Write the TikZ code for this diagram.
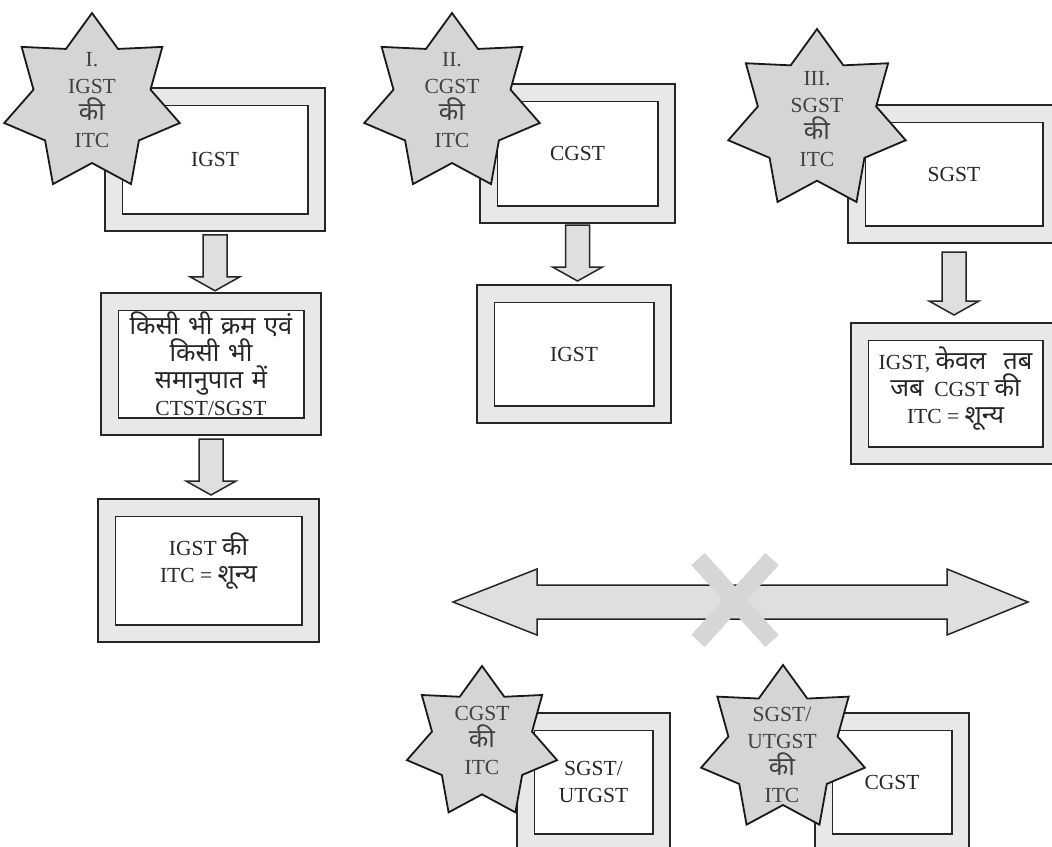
\documentclass[tikz,border=0pt]{standalone}
\usepackage{fontspec}
\setmainfont{Liberation Serif}
\newfontfamily\devfont[Script=Devanagari,Scale=1.18,WordSpace=1.3]{Noto Sans}
\newcommand\hi[1]{{\devfont #1}}
\usetikzlibrary{shapes.geometric,calc}
\tikzset{
  frame/.style={draw=black!85, line width=1.8pt, double=gray!18, double distance=15.5pt,
    fill=white, inner sep=0pt, outer sep=0pt, align=center, text=black!85,
    font=\fontsize{21.5}{27}\selectfont},
  starbadge/.style={star, star points=7, star point ratio=1.5, draw=black!90,
    line width=1.8pt, fill=gray!33, inner sep=0pt, outer sep=0pt},
  startext/.style={align=center, text=black!75, inner sep=0pt,
    font=\fontsize{21.5}{27}\selectfont},
  blockarrowstyle/.style={draw=black!85, line width=1.5pt, fill=gray!25, line join=miter},
  crossline/.style={draw=gray!32, line width=18pt}
}
\newcommand\blockarrow[2]{%
  \path #1 coordinate (ba-s);
  \path #2 coordinate (ba-e);
  \path (ba-s |- ba-e) coordinate (ba-t);
  \draw[blockarrowstyle] ($(ba-s)+(-12,0)$) -- ($(ba-s)+(12,0)$) -- ($(ba-t)+(12,-14)$)
    -- ($(ba-t)+(25,-14)$) -- (ba-t) -- ($(ba-t)+(-25,-14)$) -- ($(ba-t)+(-12,-14)$) -- cycle;}
\begin{document}
\begin{tikzpicture}[x=1pt,y=-1pt]
\clip (0,0) rectangle (1052,846);
\fill[white] (0,0) rectangle (1052,846);
% boxes
\node[frame, minimum width=202.5pt, minimum height=125.5pt] (bI) at (215,159.5) {IGST};
\node[frame, minimum width=202.5pt, minimum height=124.5pt] (bIb) at (211,364)
  {\hi{किसी भी क्रम एवं}\\\hi{किसी भी}\\\hi{समानुपात में}\\CTST/SGST};
\node[frame, minimum width=203.5pt, minimum height=125.5pt] (bIc) at (208.5,570.5)
  {IGST \hi{की}\\ITC = \hi{शून्य}\\[-1pt]\mbox{}};
\node[frame, minimum width=177.5pt, minimum height=121.5pt] (bII) at (577.5,153.5) {CGST};
\node[frame, minimum width=176.5pt, minimum height=120.5pt] (bIIb) at (574,354) {IGST};
\node[frame, minimum width=194.5pt, minimum height=120.5pt] (bIII) at (954,174) {SGST};
\node[frame, minimum width=191.5pt, minimum height=123.5pt] (bIIIb) at (955.5,393.5)
  {IGST, \hi{केवल\ \ तब}\\\hi{जब}\ \ CGST \hi{की}\\ITC = \hi{शून्य}\\[-10pt]\mbox{}};
\node[frame, minimum width=135.5pt, minimum height=120.5pt] (bIV) at (593.5,782) {SGST/\\UTGST};
\node[frame, minimum width=136.5pt, minimum height=120.5pt] (bV) at (892,782) {CGST};
% block arrows
\blockarrow{($(bI.south)+(0,12.5)$)}{($(bIb.north)+(0,-11)$)}
\blockarrow{($(bIb.south)+(0,12.75)$)}{($(bIc.north)+(0,-12.75)$)}
\blockarrow{($(bII.south)+(0,10.75)$)}{($(bIIb.north)+(0,-12.75)$)}
\blockarrow{($(bIII.south)+(0,17.75)$)}{($(bIIIb.north)+(0,-16.75)$)}
% stars
\node[starbadge, minimum size=180pt] (sI) at (92,103) {};
\node[startext] (tI) at ($(sI)+(0,-3)$) {I.\\IGST\\\hi{की}\\ITC};
\node[starbadge, minimum size=180pt] (sII) at (452,103) {};
\node[startext] (tII) at ($(sII)+(0,-3)$) {II.\\CGST\\\hi{की}\\ITC};
\node[starbadge, minimum size=182pt] (sIII) at (817,120) {};
\node[startext] (tIII) at ($(sIII)+(0,-1)$) {III.\\SGST\\\hi{की}\\ITC};
\node[starbadge, minimum size=154pt] (sIV) at (482,743) {};
\node[startext] (tIV) at ($(sIV)+(0,-3)$) {CGST\\\hi{की}\\ITC};
\node[starbadge, minimum size=168pt] (sV) at (783,749) {};
\node[startext] (tV) at ($(sV)+(-1,6)$) {SGST/\\UTGST\\\hi{की}\\ITC};
% double arrow with cross
\coordinate (dl) at (453,602);
\coordinate (dr) at (1028,602);
\draw[blockarrowstyle] (dl) -- ($(dl)+(84,-33)$) -- ($(dl)+(84,-17)$) -- ($(dr)+(-81,-17)$)
  -- ($(dr)+(-81,-33)$) -- (dr) -- ($(dr)+(-81,33)$) -- ($(dr)+(-81,17)$)
  -- ($(dl)+(84,17)$) -- ($(dl)+(84,33)$) -- cycle;
\coordinate (xc) at (735,600);
\draw[crossline] ($(xc)+(-37,-41)$) -- ($(xc)+(37,41)$);
\draw[crossline] ($(xc)+(37,-41)$) -- ($(xc)+(-37,41)$);
\end{tikzpicture}
\end{document}
